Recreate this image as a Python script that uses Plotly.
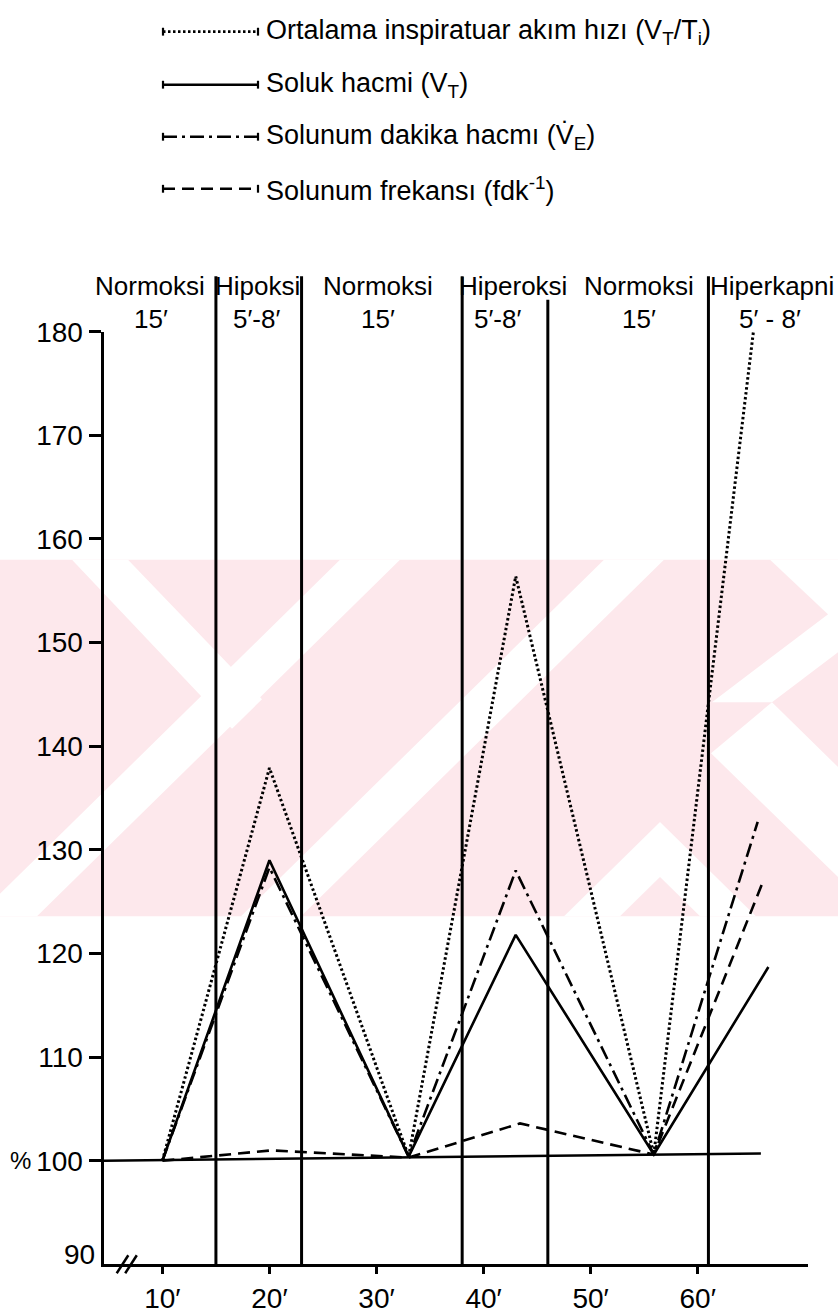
import plotly.graph_objects as go

W, H = 838, 1314
FONT = "Liberation Sans, Arial, DejaVu Sans, sans-serif"

# ---------------- data ----------------
insp_x = [10, 20, 33, 43, 55.9, 65.2]
insp_y = [100, 137.9, 100.4, 156.4, 100.6, 180.0]

vt_x = [10, 20, 33, 43, 55.9, 66.6]
vt_y = [100, 129.0, 100.4, 121.8, 100.6, 118.7]

ve_x = [10, 20, 33, 43, 55.9, 65.6]
ve_y = [100, 128.3, 100.4, 128.0, 100.6, 132.7]

f_x = [10, 20.2, 33, 43.4, 55.9, 66.2]
f_y = [100, 101.0, 100.3, 103.6, 100.6, 127.2]

base_x = [4.5, 65.9]
base_y = [100, 100.7]

phase_bounds = [15, 23, 38, 46, 61]
phase_names = ["Normoksi", "Hipoksi", "Normoksi", "Hiperoksi", "Normoksi", "Hiperkapni"]
phase_durs = ["15′", "5′-8′", "15′", "5′-8′", "15′", "5′ - 8′"]

y_ticks = [100, 110, 120, 130, 140, 150, 160, 170, 180]
x_ticks = [10, 20, 30, 40, 50, 60]

legend_names = [
    "Ortalama inspiratuar akım hızı (V<sub>T</sub>/T<sub>i</sub>)",
    "Soluk hacmi (V<sub>T</sub>)",
    "Solunum dakika hacmı (V̇<sub>E</sub>)",
    "Solunum frekansı (fdk<sup>-1</sup>)",
]
dash_styles = ["2.5px,2.5px", "solid", "14px,5px,3px,5px", "12px,7px"]
line_widths = [3.0, 2.6, 2.6, 2.6]

# ---------------- layout geometry (pixels) ----------------
X_LEFT, X_RIGHT = 103.5, 808.0      # y-axis position, end of x-axis
Y_BOTTOM, Y_TOP = 1272.6, 322.6     # y=90 and y=180
def px(x):
    return x / W
def py(y):
    return 1 - y / H

fig = go.Figure()

series = [(insp_x, insp_y), (vt_x, vt_y), (ve_x, ve_y), (f_x, f_y)]
for (xs, ys), name, dsh, lw in zip(series, legend_names, dash_styles, line_widths):
    fig.add_trace(go.Scatter(x=xs, y=ys, mode="lines", name=name, showlegend=False,
                             line=dict(color="black", width=lw, dash=dsh)))
fig.add_trace(go.Scatter(x=base_x, y=base_y, mode="lines", showlegend=False,
                         line=dict(color="black", width=2.6)))

shapes = []
# watermark (pale pink band with white diagonal stripes)
PINK = "#fde8ec"
band_top, band_bot = 555, 918
shapes.append(dict(type="rect", xref="paper", yref="paper", layer="below",
                   x0=0, x1=1, y0=py(band_bot), y1=py(band_top),
                   fillcolor=PINK, line=dict(width=0)))
def poly(points):
    return "M " + " L ".join(f"{px(a):.5f},{py(b):.5f}" for a, b in points) + " Z"
white_polys = [
    [(72, 555), (128, 555), (262, 697), (232, 727)],
    [(340, 555), (400, 555), (37, 918), (-23, 918)],
    [(604, 555), (664, 555), (301, 918), (241, 918)],
    [(770, 555), (838, 555), (838, 620)],
    [(900, 555), (960, 555), (772, 700), (712, 700)],
    [(772, 700), (838, 766), (838, 878), (711, 752)],
    [(660, 822), (756, 918), (700, 918), (660, 878), (620, 918), (564, 918)],
]
for p in white_polys:
    shapes.append(dict(type="path", xref="paper", yref="paper", layer="below",
                       path=poly(p), fillcolor="white", line=dict(width=0)))

# phase boundary lines
tops = {46: 290}
for b in phase_bounds:
    shapes.append(dict(type="line", xref="x", yref="paper", x0=b, x1=b,
                       y0=py(Y_BOTTOM), y1=py(tops.get(b, 266)),
                       line=dict(color="black", width=3)))
# axis break marks
for dx in (0, 8.5):
    shapes.append(dict(type="line", xref="paper", yref="paper",
                       x0=px(116.7 + dx), y0=py(1281.7), x1=px(128.3 + dx), y1=py(1263.3),
                       line=dict(color="black", width=2.5)))

annotations = []
# legend
leg_rows = [17, 71, 124, 177]
for name, dsh, lw, ry in zip(legend_names, dash_styles, line_widths, leg_rows):
    shapes.append(dict(type="line", xref="paper", yref="paper",
                       x0=px(163), x1=px(258), y0=py(ry), y1=py(ry),
                       line=dict(color="black", width=lw - 0.2, dash=dsh)))
    for ex in (163, 258):
        shapes.append(dict(type="line", xref="paper", yref="paper",
                           x0=px(ex), x1=px(ex), y0=py(ry - 4), y1=py(ry + 4),
                           line=dict(color="black", width=2.2)))
    annotations.append(dict(xref="paper", yref="paper", x=px(264), y=py(ry),
                            xanchor="left", yanchor="middle", showarrow=False,
                            text=name, font=dict(family=FONT, size=27, color="black")))

# phase labels
name_x = [149.6, 257.6, 378, 513, 638.6, 772]
dur_x = [150.7, 256.5, 378, 497, 638.6, 769.5]
for nm, dr, nx, dx_ in zip(phase_names, phase_durs, name_x, dur_x):
    annotations.append(dict(xref="paper", yref="paper", x=px(nx), y=py(276.5),
                            xanchor="center", yanchor="middle", showarrow=False,
                            text=nm, font=dict(family=FONT, size=26, color="black")))
    annotations.append(dict(xref="paper", yref="paper", x=px(dx_), y=py(310),
                            xanchor="center", yanchor="middle", showarrow=False,
                            text=dr, font=dict(family=FONT, size=26, color="black")))

annotations.append(dict(xref="paper", yref="paper", x=px(97), y=py(1263),
                        xanchor="right", yanchor="middle", showarrow=False,
                        text="90", font=dict(family=FONT, size=28, color="black")))
annotations.append(dict(xref="paper", yref="paper", x=px(20), y=py(1167),
                        xanchor="center", yanchor="middle", showarrow=False,
                        text="%", font=dict(family=FONT, size=24, color="black")))

fig.update_layout(
    width=W, height=H,
    margin=dict(l=0, r=0, t=0, b=0),
    paper_bgcolor="white", plot_bgcolor="rgba(0,0,0,0)",
    showlegend=False,
    shapes=shapes, annotations=annotations,
    xaxis=dict(domain=[px(X_LEFT), px(X_RIGHT)], range=[4.5, 70.3],
               showgrid=False, zeroline=False, showline=True, linecolor="black", linewidth=3,
               tickmode="array", tickvals=x_ticks, ticktext=[f"{v}′" for v in x_ticks],
               ticks="outside", ticklen=7, tickwidth=2.5, tickcolor="black",
               tickfont=dict(family=FONT, size=28, color="black")),
    yaxis=dict(domain=[py(Y_BOTTOM), py(Y_TOP)], range=[90, 180],
               showgrid=False, zeroline=False, showline=True, linecolor="black", linewidth=3,
               tickmode="array", tickvals=y_ticks, ticktext=[str(v) for v in y_ticks],
               ticks="outside", ticklen=12, tickwidth=2.5, tickcolor="black",
               tickfont=dict(family=FONT, size=28, color="black")),
)

fig.write_html("out.html")
